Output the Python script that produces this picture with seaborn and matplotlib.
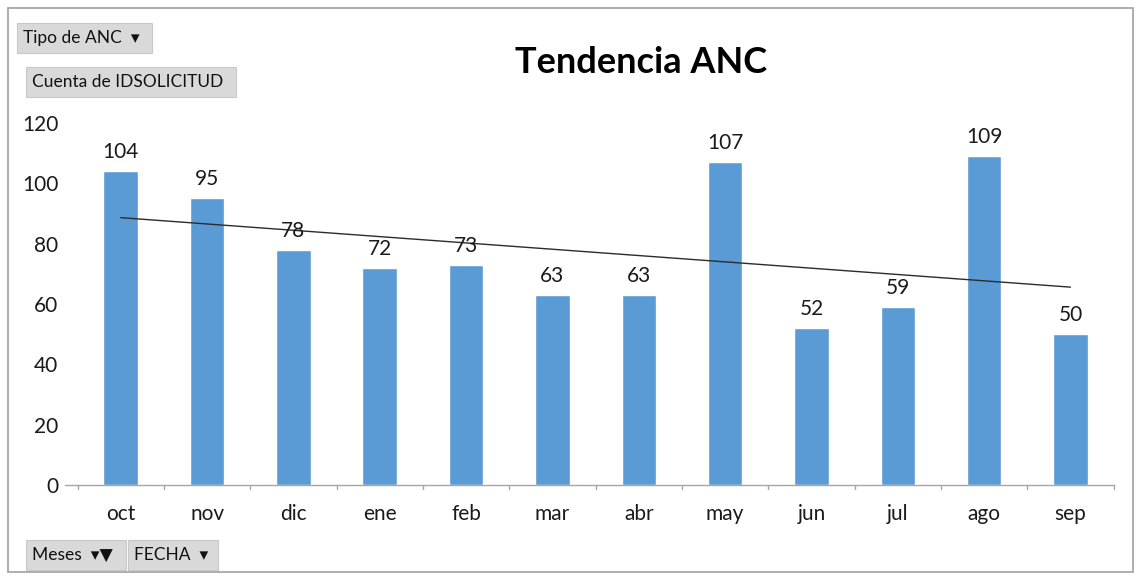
import numpy as np
import pandas as pd
import seaborn as sns
import matplotlib.pyplot as plt
from matplotlib.patches import Rectangle

meses = ['oct', 'nov', 'dic', 'ene', 'feb', 'mar', 'abr', 'may', 'jun', 'jul', 'ago', 'sep']
cuenta = [104, 95, 78, 72, 73, 63, 63, 107, 52, 59, 109, 50]
yticks = [0, 20, 40, 60, 80, 100, 120]

data = pd.DataFrame({'Mes': meses, 'Cuenta': cuenta})

sns.set_style('white')
plt.rcParams['font.family'] = ['Lato', 'DejaVu Sans']

fig = plt.figure(figsize=(11.41, 5.80), dpi=100)
ax = fig.add_axes([0.068, 0.164, 0.908, 0.624])

sns.barplot(data=data, x='Mes', y='Cuenta', color='#5B9BD5', saturation=1,
            width=0.4, ax=ax)

# linea de tendencia lineal
x = np.arange(len(cuenta))
m, b = np.polyfit(x, cuenta, 1)
ax.plot(x, m * x + b, color='#2b2b2b', lw=1.0, zorder=3)

for i, v in enumerate(cuenta):
    ax.text(i, v + 3, str(v), ha='center', va='bottom', fontsize=15, color='#1a1a1a')

ax.set_xlim(-0.5, len(meses) - 0.5)
ax.set_ylim(0, 120)
ax.set_yticks(yticks)
ax.set_xlabel('')
ax.set_ylabel('')
ax.tick_params(axis='x', length=0, labelsize=15, pad=14, colors='#1a1a1a')
ax.tick_params(axis='y', length=0, labelsize=15, pad=14, colors='#1a1a1a')
for s in ['top', 'right', 'left']:
    ax.spines[s].set_visible(False)
ax.spines['bottom'].set_color('#a6a6a6')
ax.spines['bottom'].set_linewidth(1.0)
# marcas entre categorias
for xb in np.arange(-0.5, len(meses), 1.0):
    ax.plot([xb, xb], [0, -1.5], color='#a6a6a6', lw=1.0, clip_on=False)
ax.plot([-0.65, -0.5], [0, 0], color='#a6a6a6', lw=1.0, clip_on=False)

fig.text(0.562, 0.893, 'Tendencia ANC', ha='center', va='center',
         fontsize=26, fontweight='bold', color='black')

# borde exterior
fig.patches.append(Rectangle((8 / 1141, 8 / 580), 1125 / 1141, 564 / 580,
                             transform=fig.transFigure, fill=False,
                             edgecolor='#a0a0a0', lw=1.2))

# botones de campo de la tabla dinamica
def boton(x0, y0, w, h, texto):
    fig.patches.append(Rectangle((x0 / 1141, 1 - (y0 + h) / 580), w / 1141, h / 580,
                                 transform=fig.transFigure, facecolor='#d9d9d9',
                                 edgecolor='#c8c8c8', lw=0.8))
    fig.text((x0 + 6) / 1141, 1 - (y0 + h / 2) / 580, texto, ha='left', va='center',
             fontsize=12.5, color='#111111')

boton(17, 23, 135, 30, 'Tipo de ANC  \u25be')
boton(26, 67, 210, 30, 'Cuenta de IDSOLICITUD')
boton(26, 540, 100, 30, 'Meses  \u25be\u25bc')
boton(128, 540, 90, 30, 'FECHA  \u25be')

plt.savefig('out.png', dpi=100)
